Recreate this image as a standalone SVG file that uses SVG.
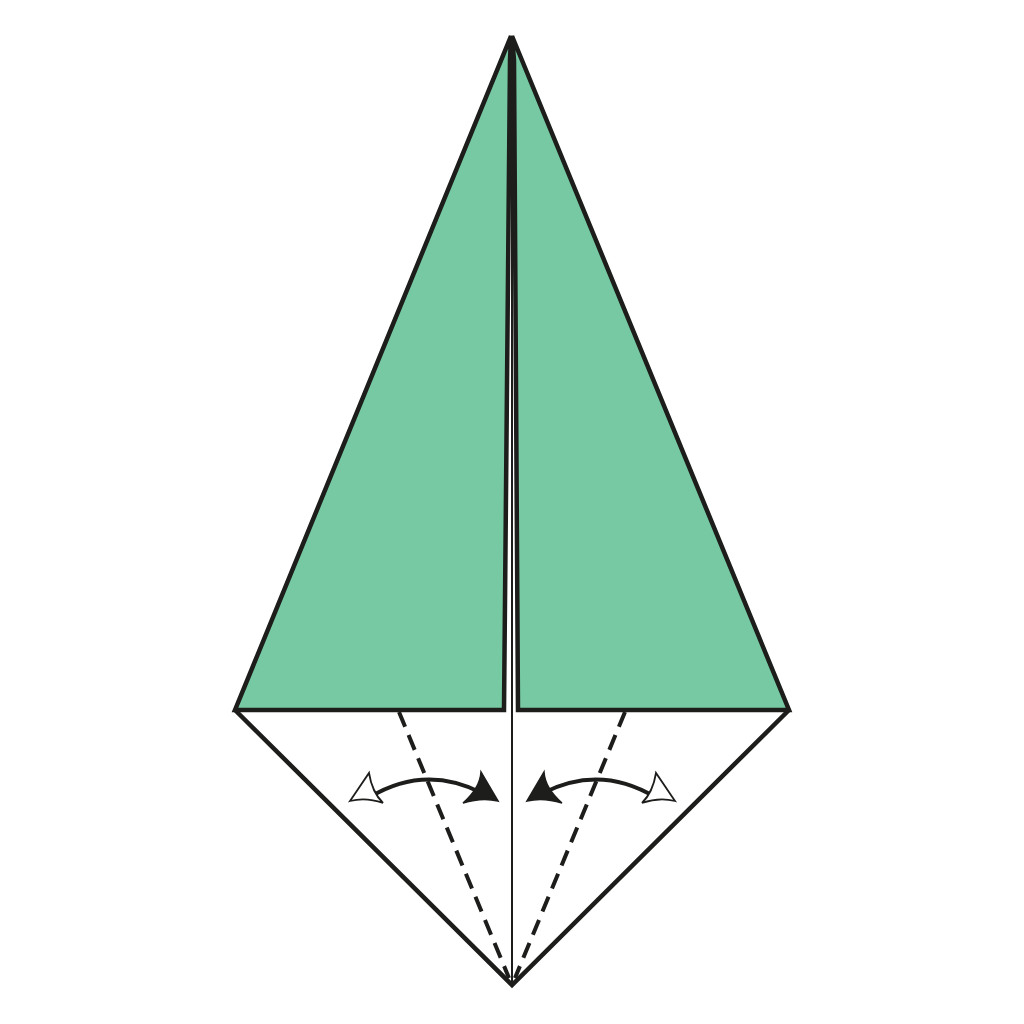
<svg xmlns="http://www.w3.org/2000/svg" width="1024" height="1024" viewBox="0 0 1024 1024">
<style>
.flap{fill:#76c9a2;stroke:#1d1d1b;stroke-width:4.5;stroke-linejoin:miter}
.edge{fill:none;stroke:#1d1d1b;stroke-width:4.5;stroke-linejoin:miter}
.thin{fill:none;stroke:#1d1d1b;stroke-width:2}
.dash{fill:none;stroke:#1d1d1b;stroke-width:4;stroke-dasharray:16 9}
.arc{fill:none;stroke:#1d1d1b;stroke-width:4}
.solid{fill:#1d1d1b;stroke:#1d1d1b;stroke-width:1.5;stroke-linejoin:miter}
.hollow{fill:#fff;stroke:#1d1d1b;stroke-width:1.8;stroke-linejoin:miter}
</style>
<rect width="1024" height="1024" fill="#fff"/>
<g id="lower-diamond">
<path class="edge" d="M235,710 L512,985 L789,710"/>
</g>
<g id="left-flap">
<polygon class="flap" points="511,36 235,710 504,710 510,60"/>
</g>
<g id="right-flap">
<polygon class="flap" points="512,36 789,710 518,710 514,60"/>
</g>
<g id="connectors">
<line class="thin" x1="512" y1="40" x2="512" y2="985"/>
<line class="dash" x1="399" y1="712" x2="509" y2="978"/>
<line class="dash" x1="625" y1="712" x2="515" y2="978"/>
<path class="arc" d="M370,797 Q425,764 482,793"/>
<path class="solid" d="M498,801 L481,772 Q480,788 463,803 Q482,797 498,801 Z"/>
<path class="hollow" d="M350,801 Q366,797 383,803 Q372,792 369,773 Z"/>
<path class="arc" d="M655,797 Q600,764 543,793"/>
<path class="solid" d="M527,801 L544,772 Q545,788 562,803 Q543,797 527,801 Z"/>
<path class="hollow" d="M675,801 Q659,797 642,803 Q653,792 656,773 Z"/>
</g>
</svg>
